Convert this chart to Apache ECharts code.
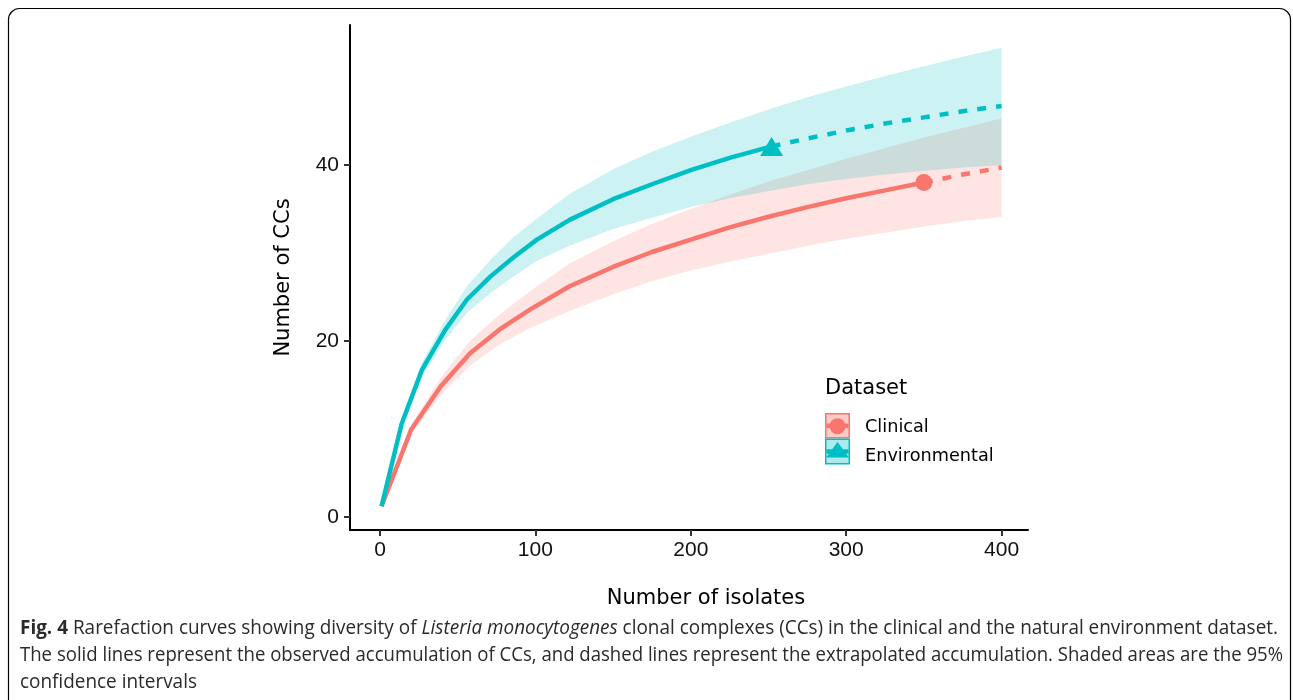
<!DOCTYPE html>
<html>
<head>
<meta charset="utf-8">
<script src="https://cdn.jsdelivr.net/npm/echarts@6/dist/echarts.min.js"></script>
<style>
html,body{margin:0;padding:0;background:#fff;}
#chart{width:1293px;height:700px;}
</style>
</head>
<body>
<div id="chart"></div>
<script>
// ---------------- DATA ----------------
const clinicalX     = [1, 20, 39, 58, 77, 97, 122, 150, 175, 200, 225, 250, 275, 300, 325, 350, 375, 400];
const clinicalMean  = [1.2, 9.9, 14.8, 18.6, 21.3, 23.6, 26.2, 28.4, 30.1, 31.5, 32.9, 34.1, 35.2, 36.2, 37.1, 38.0, 38.9, 39.7];
const clinicalLower = [1.2, 9.4, 13.8, 17.2, 19.6, 21.5, 23.4, 25.3, 26.8, 28.0, 29.0, 29.9, 30.8, 31.6, 32.3, 33.0, 33.6, 34.1];
const clinicalUpper = [1.2, 10.4, 15.8, 20.0, 23.0, 25.7, 28.8, 31.3, 33.3, 35.0, 36.6, 38.1, 39.4, 40.7, 41.9, 43.1, 44.2, 45.3];
const clinicalObserved = 350;

const envX     = [1, 14, 27, 42, 56, 71, 86, 101, 122, 150, 175, 200, 225, 252, 275, 300, 325, 350, 375, 400];
const envMean  = [1.2, 10.6, 16.7, 21.25, 24.7, 27.3, 29.5, 31.5, 33.75, 36.1, 37.8, 39.4, 40.8, 42.1, 43.0, 43.9, 44.7, 45.4, 46.1, 46.7];
const envLower = [1.2, 10.2, 15.9, 20.1, 23.2, 25.4, 27.3, 29.1, 30.8, 32.7, 34.0, 35.2, 36.2, 37.1, 37.8, 38.4, 38.9, 39.3, 39.7, 40.0];
const envUpper = [1.2, 11.0, 17.5, 22.4, 26.2, 29.2, 31.8, 33.9, 36.7, 39.5, 41.5, 43.2, 44.8, 46.4, 47.7, 48.9, 50.1, 51.2, 52.3, 53.3];
const envObserved = 252;

const xTicks = [0, 100, 200, 300, 400];
const yTicks = [0, 20, 40];

const seriesNames = ['Clinical', 'Environmental'];
const legendTitle = 'Dataset';
const xTitle = 'Number of isolates';
const yTitle = 'Number of CCs';
const captionLines = [
  [{s:'Fig. 4', st:'b'}, {s:' Rarefaction curves showing diversity of ', st:'n'}, {s:'Listeria monocytogenes', st:'i'}, {s:' clonal complexes (CCs) in the clinical and the natural environment dataset.', st:'n'}],
  [{s:'The solid lines represent the observed accumulation of CCs, and dashed lines represent the extrapolated accumulation. Shaded areas are the 95%', st:'n'}],
  [{s:'confidence intervals', st:'n'}]
];

// ---------------- STYLE ----------------
const COL_C = '#F8766D';
const COL_E = '#00BFC4';
const FILL_C = 'rgba(248,118,109,0.2)';
const FILL_E = 'rgba(0,191,196,0.2)';

function observedPart(xs, ys, obs) { return xs.map((x, i) => [x, ys[i]]).filter(p => p[0] <= obs); }
function extrapPart(xs, ys, obs) { return xs.map((x, i) => [x, ys[i]]).filter(p => p[0] >= obs); }
function valueAt(xs, ys, x) { return ys[xs.indexOf(x)]; }

function bandSeries(name, xs, lo, hi, fill, z) {
  const data = xs.map((x, i) => [x, lo[i], hi[i]]);
  return {
    type:'custom', name: name + '_band', data: data, z: z, silent:true, animation:false,
    encode:{x:0, y:[1, 2]},
    renderItem: function (params, api) {
      if (params.dataIndex !== 0) return null;
      const pts = [];
      for (let i = 0; i < data.length; i++) pts.push(api.coord([data[i][0], data[i][2]]));
      for (let i = data.length - 1; i >= 0; i--) pts.push(api.coord([data[i][0], data[i][1]]));
      return {type:'polygon', shape:{points: pts}, style:{fill: fill, stroke:'none'}};
    }
  };
}
function lineSeries(name, xs, ys, obs, color, symbol, symSize) {
  return [
    { type:'line', name: name, data: observedPart(xs, ys, obs), symbol:'none', z:5, animation:false,
      lineStyle:{color: color, width:4.5, cap:'butt'} },
    { type:'line', name: name + '_ext', data: extrapPart(xs, ys, obs), symbol:'none', z:5, animation:false,
      lineStyle:{color: color, width:4.5, type:[9,10], cap:'butt'} },
    { type:'scatter', name: name + '_pt', data: [[obs, valueAt(xs, ys, obs)]], symbol: symbol, symbolSize: symSize,
      itemStyle:{color: color, opacity:1}, z:6, animation:false }
  ];
}

// caption measurement for horizontal fit
const CAP_FONT_FAMILY = '"Open Sans", "Noto Sans", sans-serif';
const CAP_SIZE = 20;
const mctx = document.createElement('canvas').getContext('2d');
function fontFor(st) {
  return (st === 'i' ? 'italic ' : '') + (st === 'b' ? 'bold ' : '') + CAP_SIZE + 'px ' + CAP_FONT_FAMILY;
}
function lineWidth(parts) {
  let w = 0;
  parts.forEach(p => { mctx.font = fontFor(p.st); w += mctx.measureText(p.s).width; });
  return w;
}
const capTargets = [1258, 1263, null];
const baseScale = 1258 / lineWidth(captionLines[0]);

function captionGraphic() {
  const ys = [628, 655, 682];
  return captionLines.map((parts, li) => {
    const sc = capTargets[li] ? capTargets[li] / lineWidth(parts) : baseScale;
    const txt = parts.map(p => '{' + p.st + '|' + p.s + '}').join('');
    return {
      type:'text', x: 20, y: ys[li], scaleX: sc, z: 10,
      style:{
        text: txt, verticalAlign:'middle',
        rich:{
          n:{fontFamily:CAP_FONT_FAMILY, fontSize:CAP_SIZE, fill:'#2a2a2a'},
          i:{fontFamily:CAP_FONT_FAMILY, fontSize:CAP_SIZE, fontStyle:'italic', fill:'#2a2a2a'},
          b:{fontFamily:CAP_FONT_FAMILY, fontSize:CAP_SIZE, fontWeight:'bold', fill:'#2a2a2a'}
        }
      }
    };
  });
}

function legendGraphic() {
  const items = [];
  const x0 = 825, keyW = 25;
  const rows = [[413, 25.5], [438.5, 26]];
  items.push({type:'text', x: x0, y: 389, z: 10, style:{text: legendTitle, fontFamily:'DejaVu Sans', fontSize:21, fill:'#000', verticalAlign:'middle'}});
  const cols = [COL_C, COL_E];
  const fills = ['rgba(248,118,109,0.38)', 'rgba(0,191,196,0.32)'];
  const labelY = [427, 456];
  rows.forEach((r, k) => {
    const y = r[0], h = r[1], cy = y + h / 2;
    items.push({type:'rect', z: 10, shape:{x:x0+0.75, y:y+0.75, width:keyW-1.5, height:h-1.5}, style:{fill: fills[k], stroke: cols[k], lineWidth:1.5}});
    items.push({type:'line', z: 11, shape:{x1:x0+1.5, y1:cy, x2:x0+keyW-1.5, y2:cy}, style:{stroke: cols[k], lineWidth:4.5}});
    if (k === 0) {
      items.push({type:'circle', z: 12, shape:{cx:x0+keyW/2, cy:cy + 0.5, r:8}, style:{fill: cols[k]}});
    } else {
      items.push({type:'polygon', z: 12, shape:{points:[[x0+keyW/2, y+3.5],[x0+keyW/2-11.5, y+19],[x0+keyW/2+11.5, y+19]]}, style:{fill: cols[k]}});
    }
    items.push({type:'text', z: 10, x: x0 + 40, y: labelY[k], style:{text: seriesNames[k], fontFamily:'DejaVu Sans', fontSize:17.7, fill:'#000', verticalAlign:'middle'}});
  });
  return items;
}

const chart = echarts.init(document.getElementById('chart'), null, {renderer:'canvas'});
const option = {
  backgroundColor:'#fff',
  animation:false,
  grid:{left:350, right:265, top:25, bottom:170, containLabel:false, outerBoundsMode:'none'},
  xAxis:{
    type:'value', min:-19.3, max:417,
    name: xTitle, nameLocation:'middle', nameGap:58,
    nameTextStyle:{fontFamily:'DejaVu Sans', fontSize:21, color:'#000', padding:[0,0,0,34]},
    axisLine:{show:true, onZero:false, lineStyle:{color:'#000', width:2}},
    axisTick:{show:true, length:6, lineStyle:{color:'#333', width:2}, customValues: xTicks},
    axisLabel:{show:true, customValues: xTicks, margin:10, fontFamily:'Liberation Sans', fontSize:21, color:'#111'},
    splitLine:{show:false}
  },
  yAxis:{
    type:'value', min:-1.5, max:55.9,
    name: yTitle, nameLocation:'middle', nameGap:56, nameRotate:90,
    nameTextStyle:{fontFamily:'DejaVu Sans', fontSize:21, color:'#000'},
    axisLine:{show:true, onZero:false, lineStyle:{color:'#000', width:2}},
    axisTick:{show:true, length:6, lineStyle:{color:'#333', width:2}, customValues: yTicks},
    axisLabel:{show:true, customValues: yTicks, margin:11, fontFamily:'Liberation Sans', fontSize:21, color:'#111'},
    splitLine:{show:false}
  },
  series: [].concat(
    bandSeries('Clinical', clinicalX, clinicalLower, clinicalUpper, FILL_C, 1),
    bandSeries('Environmental', envX, envLower, envUpper, FILL_E, 2),
    lineSeries('Clinical', clinicalX, clinicalMean, clinicalObserved, COL_C, 'circle', 17),
    lineSeries('Environmental', envX, envMean, envObserved, COL_E, 'triangle', [23, 19])
  ),
  graphic: [
    {type:'rect', shape:{x:8.5, y:8.5, width:1282, height:760, r:11}, style:{fill:'none', stroke:'#000', lineWidth:1.2}, silent:true, z:-1}
  ].concat(legendGraphic(), captionGraphic())
};
chart.setOption(option);
</script>
</body>
</html>
